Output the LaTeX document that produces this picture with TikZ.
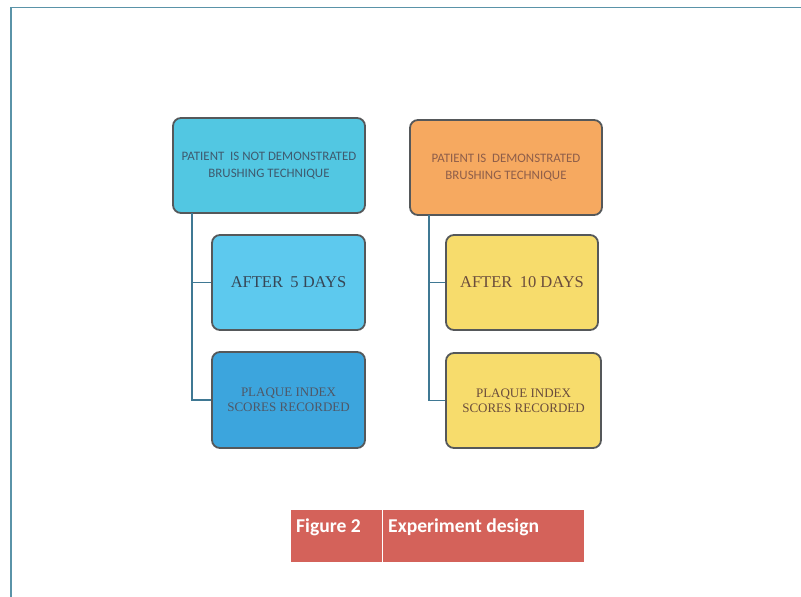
\documentclass[tikz,border=0pt]{standalone}
\usepackage{fontspec}
\setmainfont{Liberation Serif}
\newfontfamily\calib{Carlito}
\usetikzlibrary{calc}
\definecolor{frameblue}{HTML}{5A93A8}
\definecolor{linkblue}{HTML}{3F7893}
\definecolor{cyanA}{HTML}{52C7E2}
\definecolor{cyanB}{HTML}{5DC9EE}
\definecolor{blueC}{HTML}{3CA5DD}
\definecolor{orangeA}{HTML}{F6A960}
\definecolor{yellowA}{HTML}{F7DC6C}
\definecolor{capred}{HTML}{D4625A}
\definecolor{txtblue}{HTML}{3F5A6E}
\definecolor{txtslate}{HTML}{364656}
\definecolor{txtgray}{HTML}{4F5766}
\definecolor{txtbrown}{HTML}{6A4C3C}
\definecolor{txtorange}{HTML}{8E5E4A}
\definecolor{bordergray}{HTML}{55585A}
\begin{document}
\begin{tikzpicture}[x=1pt,y=-1pt,
  box/.style={draw=bordergray, line width=1.8pt, rounded corners=8pt, align=center, inner sep=2pt},
  topbox/.style={box, minimum width=192pt, minimum height=95pt, font=\calib\fontsize{12.9}{17}\selectfont},
  bigtxt/.style={box, minimum width=153pt, minimum height=95pt, font=\fontsize{16.5}{19}\selectfont},
  smalltxt/.style={box, minimum width=153pt, minimum height=95pt, font=\fontsize{13}{15}\selectfont},
  link/.style={draw=linkblue, line width=1.8pt},
  capcell/.style={fill=capred, draw=none, anchor=north west, minimum height=52pt, inner sep=0pt},
  captext/.style={text=white, font=\calib\bfseries\fontsize{19.6}{21}\selectfont, anchor=base west, inner sep=0pt}]
\useasboundingbox (0,0) rectangle (801,597);
\fill[white] (0,0) rectangle (801,597);
% frame
\coordinate (fbl) at (11,597);
\coordinate (ftl) at (11,7.5);
\coordinate (ftr) at (801,7.5);
\draw[frameblue, line width=1.8pt] (fbl) -- (ftl) -- (ftr);
% boxes
\node[topbox, fill=cyanA, text=txtblue] (b1) at (269,165.5) {PATIENT\ \ IS NOT DEMONSTRATED\\BRUSHING TECHNIQUE};
\node[topbox, fill=orangeA, text=txtorange] (b2) at (506,167.5) {PATIENT IS\ \ DEMONSTRATED\\BRUSHING TECHNIQUE};
\node[bigtxt, fill=cyanB, text=txtslate] (b3) at (288.5,282.5) {AFTER\hspace{0.45em}5 DAYS};
\node[smalltxt, fill=blueC, text=txtgray, minimum height=96pt] (b4) at (288.5,400) {PLAQUE INDEX\\SCORES RECORDED};
\node[bigtxt, fill=yellowA, text=txtbrown, minimum width=152pt] (b5) at (522,282.5) {AFTER\hspace{0.45em}10 DAYS};
\node[smalltxt, fill=yellowA, text=txtbrown, minimum width=155pt] (b6) at (523.5,400.5) {PLAQUE INDEX\\SCORES RECORDED};
% connectors
\coordinate (l1) at ($(b1.south west)+(20,-0.9)$);
\coordinate (l2) at ($(b2.south west)+(20,-0.9)$);
\draw[link] (l1) |- (b3.west);
\draw[link] (l1) |- (b4.west);
\draw[link] (l2) |- (b5.west);
\draw[link] (l2) |- (b6.west);
% caption
\node[capcell, minimum width=91pt] (c1) at (291,510) {};
\node[capcell, minimum width=202pt] (c2) at (382,510) {};
\draw[white, line width=0.8pt] (c1.north east) -- (c1.south east);
\node[captext] (t1) at (296,532) {Figure 2};
\node[captext] (t2) at (388,532) {Experiment design};
\end{tikzpicture}
\end{document}
